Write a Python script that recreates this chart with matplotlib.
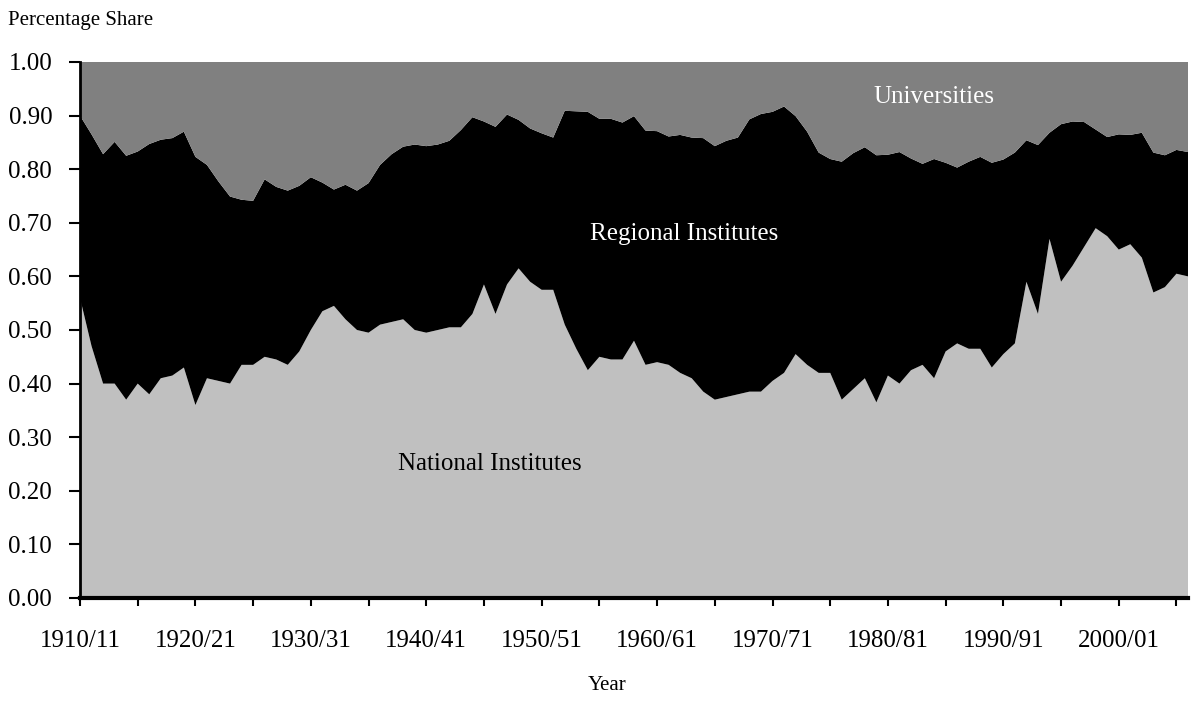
import matplotlib
matplotlib.use("Agg")
import matplotlib.pyplot as plt

plt.rcParams['font.family'] = ['Liberation Serif', 'DejaVu Serif']

# Anos (categorias) 1910/11 .. 2006/07
anos = [f"{a}/{(a + 1) % 100:02d}" for a in range(1910, 2007)]

# Participação de cada grupo
national = [
    0.56, 0.47, 0.40, 0.40, 0.37, 0.40, 0.38, 0.41, 0.415, 0.43,
    0.36, 0.41, 0.405, 0.40, 0.435, 0.435, 0.45, 0.445, 0.435, 0.46,
    0.50, 0.535, 0.545, 0.52, 0.50, 0.495, 0.51, 0.515, 0.52, 0.50,
    0.495, 0.50, 0.505, 0.505, 0.53, 0.585, 0.53, 0.585, 0.615, 0.59,
    0.575, 0.575, 0.51, 0.465, 0.425, 0.45, 0.445, 0.445, 0.48, 0.435,
    0.44, 0.435, 0.42, 0.41, 0.385, 0.37, 0.375, 0.38, 0.385, 0.385,
    0.405, 0.42, 0.455, 0.435, 0.42, 0.42, 0.37, 0.39, 0.41, 0.365,
    0.415, 0.40, 0.425, 0.435, 0.41, 0.46, 0.475, 0.465, 0.465, 0.43,
    0.455, 0.475, 0.59, 0.53, 0.67, 0.59, 0.62, 0.655, 0.69, 0.675,
    0.65, 0.66, 0.635, 0.57, 0.58, 0.605, 0.60,
]
regional = [
    0.34, 0.395, 0.428, 0.451, 0.455, 0.433, 0.467, 0.445, 0.443, 0.44,
    0.463, 0.398, 0.372, 0.349, 0.308, 0.306, 0.331, 0.322, 0.325, 0.309,
    0.285, 0.24, 0.217, 0.251, 0.26, 0.279, 0.298, 0.313, 0.322, 0.346,
    0.348, 0.346, 0.348, 0.368, 0.367, 0.304, 0.349, 0.317, 0.277, 0.286,
    0.292, 0.284, 0.399, 0.443, 0.482, 0.444, 0.449, 0.442, 0.419, 0.437,
    0.431, 0.426, 0.444, 0.449, 0.473, 0.473, 0.478, 0.479, 0.508, 0.518,
    0.502, 0.497, 0.444, 0.435, 0.411, 0.399, 0.444, 0.44, 0.431, 0.461,
    0.412, 0.432, 0.395, 0.375, 0.409, 0.352, 0.328, 0.349, 0.358, 0.382,
    0.363, 0.356, 0.264, 0.315, 0.198, 0.294, 0.269, 0.233, 0.184, 0.185,
    0.215, 0.204, 0.233, 0.261, 0.246, 0.231, 0.232,
]
universities = [
    0.10, 0.135, 0.172, 0.149, 0.175, 0.167, 0.153, 0.145, 0.142, 0.13,
    0.177, 0.192, 0.223, 0.251, 0.257, 0.259, 0.219, 0.233, 0.24, 0.231,
    0.215, 0.225, 0.238, 0.229, 0.24, 0.226, 0.192, 0.172, 0.158, 0.154,
    0.157, 0.154, 0.147, 0.127, 0.103, 0.111, 0.121, 0.098, 0.108, 0.124,
    0.133, 0.141, 0.091, 0.092, 0.093, 0.106, 0.106, 0.113, 0.101, 0.128,
    0.129, 0.139, 0.136, 0.141, 0.142, 0.157, 0.147, 0.141, 0.107, 0.097,
    0.093, 0.083, 0.101, 0.13, 0.169, 0.181, 0.186, 0.17, 0.159, 0.174,
    0.173, 0.168, 0.18, 0.19, 0.181, 0.188, 0.197, 0.186, 0.177, 0.188,
    0.182, 0.169, 0.146, 0.155, 0.132, 0.116, 0.111, 0.112, 0.126, 0.14,
    0.135, 0.136, 0.132, 0.169, 0.174, 0.164, 0.168,
]

fig = plt.figure(figsize=(11.94, 7.07), dpi=100)
ax = fig.add_axes([80 / 1194, 1 - 598 / 707, 1108 / 1194, 536 / 707])

x = list(range(len(anos)))
ax.stackplot(x, national, regional, universities,
             colors=['#c0c0c0', '#000000', '#808080'], linewidth=0)

ax.set_xlim(0, len(anos) - 1)
ax.set_ylim(0, 1)

ax.set_yticks([i / 10 for i in range(11)])
ax.set_yticklabels([f"{i / 10:.2f}" for i in range(11)], fontsize=18)
ax.set_xticks(x[::5])
ax.set_xticklabels([anos[i] if i % 10 == 0 else '' for i in x[::5]], fontsize=18)

ax.tick_params(axis='y', length=8, width=1.5, pad=12)
ax.tick_params(axis='x', length=6, width=1.5, pad=17)

for s in ['top', 'right']:
    ax.spines[s].set_visible(False)
ax.spines['left'].set_linewidth(2)
ax.spines['bottom'].set_linewidth(3)

# Rótulos das áreas
ax.text(74, 0.935, 'Universities', color='white', fontsize=18, ha='center', va='center')
ax.text(52.3, 0.68, 'Regional Institutes', color='white', fontsize=18, ha='center', va='center')
ax.text(35.5, 0.25, 'National Institutes', color='black', fontsize=18, ha='center', va='center')

fig.text(8 / 1194, 1 - 20 / 707, 'Percentage Share', fontsize=15, ha='left', va='center')
fig.text(607 / 1194, 1 - 686 / 707, 'Year', fontsize=15, ha='center', va='center')

fig.savefig('out.png', dpi=100)
